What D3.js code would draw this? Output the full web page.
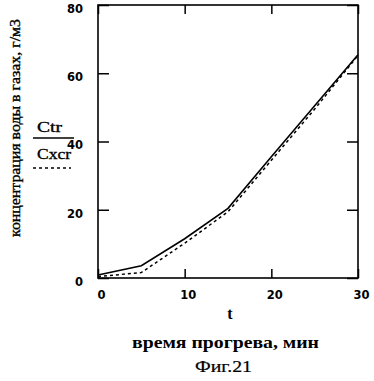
<!DOCTYPE html>
<html>
<head>
<meta charset="utf-8">
<script src="https://cdn.jsdelivr.net/npm/d3@7"></script>
<style>
  body { margin: 0; background: #fff; }
  svg { display: block; }
</style>
</head>
<body>
<svg id="chart" width="374" height="381"></svg>
<script>
// время прогрева, мин
var times = [0, 5, 10, 15, 20, 25, 30];
// концентрация воды, г/м3
var ctr = [0.9, 3.6, 11.5, 20.4, 35.5, 50.5, 65.4];
var cxcr = [0.4, 1.6, 10.2, 19.4, 34.5, 49.5, 65.2];
var xTicks = [0, 10, 20, 30];
var yTicks = [0, 20, 40, 60, 80];
var seriesNames = ["Ctr", "Cxcr"];

var svg = d3.select("#chart"),
    margin = {top: 5, right: 16, bottom: 103, left: 98},
    width = +svg.attr("width") - margin.left - margin.right,
    height = +svg.attr("height") - margin.top - margin.bottom,
    g = svg.append("g").attr("transform", "translate(" + margin.left + "," + margin.top + ")");

var x = d3.scaleLinear().domain([0, 30]).range([0, width]),
    y = d3.scaleLinear().domain([0, 80]).range([height, 0]);

var tickFont = "bold 11.5px 'DejaVu Sans', sans-serif";

// bottom axis: ticks pointing inwards
var xb = g.append("g")
    .attr("transform", "translate(0," + height + ")")
    .call(d3.axisBottom(x).tickValues(xTicks).tickSizeInner(-9).tickSizeOuter(0).tickPadding(13));
// top axis, ticks only
var xt = g.append("g")
    .call(d3.axisTop(x).tickValues(xTicks).tickSizeInner(-9).tickSizeOuter(0).tickFormat(""));
var yl = g.append("g")
    .call(d3.axisLeft(y).tickValues(yTicks).tickSizeInner(-11).tickSizeOuter(0).tickPadding(15));
var yr = g.append("g")
    .attr("transform", "translate(" + width + ",0)")
    .call(d3.axisRight(y).tickValues(yTicks).tickSizeInner(-11).tickSizeOuter(0).tickFormat(""));

[xb, xt, yl, yr].forEach(function(a) {
  a.select(".domain").remove();
  a.selectAll("line").attr("stroke", "#000").attr("stroke-width", 1.5);
  a.selectAll("text").style("font", tickFont).attr("fill", "#000");
});
xb.selectAll("text").attr("dx", 3);
yl.selectAll("text").attr("dy", "0.65em");

// frame
g.append("rect")
    .attr("width", width)
    .attr("height", height)
    .attr("fill", "none")
    .attr("stroke", "#000")
    .attr("stroke-width", 1.6);

var line = d3.line()
    .x(function(d) { return x(d[0]); })
    .y(function(d) { return y(d[1]); });

g.append("path")
    .datum(d3.zip(times, cxcr))
    .attr("d", line)
    .attr("fill", "none")
    .attr("stroke", "#000")
    .attr("stroke-width", 1.5)
    .attr("stroke-dasharray", "3,3");

g.append("path")
    .datum(d3.zip(times, ctr))
    .attr("d", line)
    .attr("fill", "none")
    .attr("stroke", "#000")
    .attr("stroke-width", 1.6);

var serif = "'Liberation Serif', 'Times New Roman', serif";

// y label (scan is a bit stretched, so fix the text length)
svg.append("text")
    .attr("transform", "translate(20,128) rotate(-90)")
    .attr("text-anchor", "middle")
    .attr("textLength", 218)
    .attr("lengthAdjust", "spacingAndGlyphs")
    .attr("stroke", "#000").attr("stroke-width", 0.35)
    .style("font", "15px " + serif)
    .text("концентрация воды в газах, г/м3");

// legend
var legend = svg.selectAll(".legend")
    .data(seriesNames)
    .enter().append("g")
    .attr("class", "legend")
    .attr("transform", function(d, i) { return "translate(33," + (132 + i * 27) + ")"; });

legend.append("text")
    .attr("x", 4)
    .attr("textLength", function(d, i) { return i ? 34 : 25; })
    .attr("lengthAdjust", "spacingAndGlyphs")
    .attr("stroke", "#000").attr("stroke-width", 0.35)
    .style("font", "15px " + serif)
    .text(function(d) { return d; });

legend.append("line")
    .attr("x1", 0)
    .attr("x2", function(d, i) { return i ? 38 : 41; })
    .attr("y1", function(d, i) { return i ? 9 : 6; })
    .attr("y2", function(d, i) { return i ? 9 : 6; })
    .attr("stroke", "#000")
    .attr("stroke-width", 1.5)
    .attr("stroke-dasharray", function(d, i) { return i ? "3,3" : null; });

// x labels
svg.append("text")
    .attr("x", 230).attr("y", 319)
    .attr("text-anchor", "middle")
    .style("font", "bold 16px " + serif)
    .text("t");

svg.append("text")
    .attr("x", 225.5).attr("y", 348)
    .attr("text-anchor", "middle")
    .attr("textLength", 187)
    .attr("lengthAdjust", "spacingAndGlyphs")
    .style("font", "bold 17px " + serif)
    .text("время прогрева, мин");

svg.append("text")
    .attr("x", 223.5).attr("y", 372)
    .attr("text-anchor", "middle")
    .attr("textLength", 57)
    .attr("lengthAdjust", "spacingAndGlyphs")
    .attr("stroke", "#000").attr("stroke-width", 0.2)
    .style("font", "16px " + serif)
    .text("Фиг.21");
</script>
</body>
</html>
